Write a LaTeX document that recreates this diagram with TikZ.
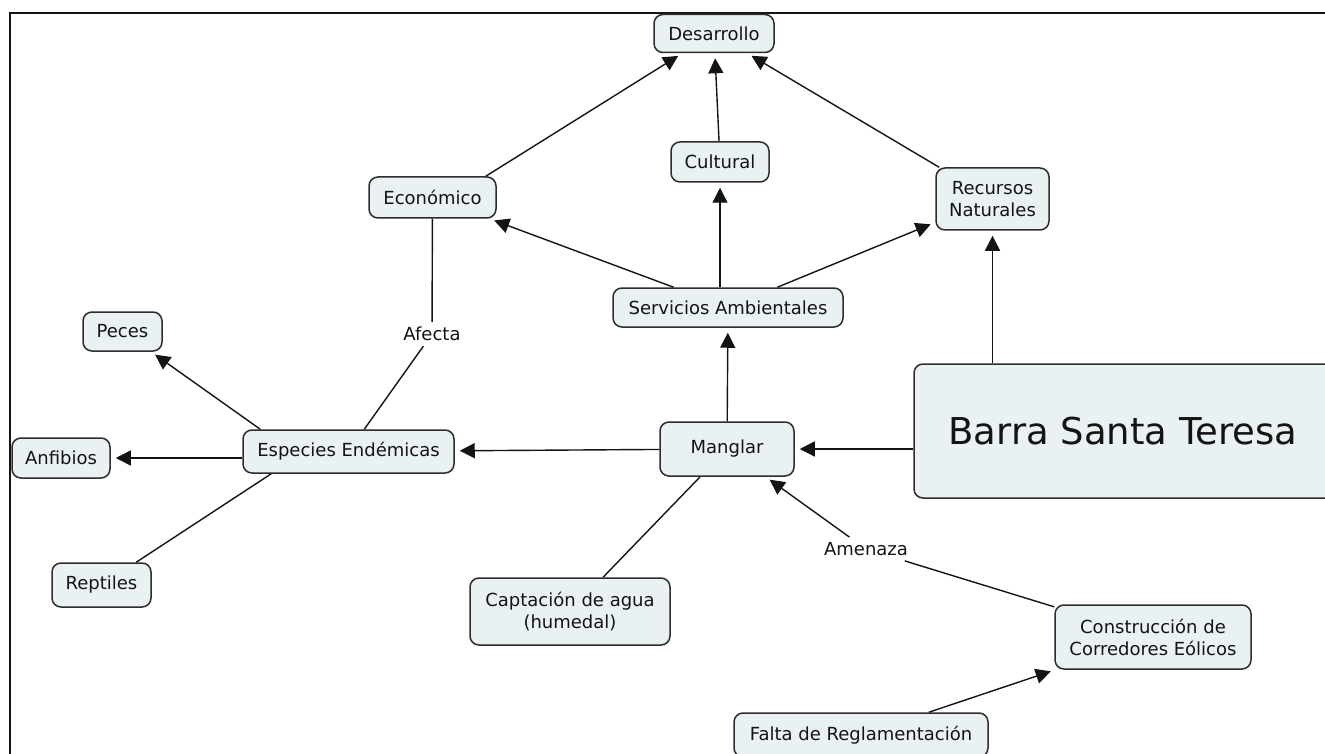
\documentclass[tikz,border=0pt]{standalone}
\usepackage{fontspec}
\setmainfont{DejaVu Sans}
\usetikzlibrary{arrows.meta,calc}
\definecolor{boxfill}{RGB}{233,241,243}
\definecolor{boxline}{RGB}{45,45,45}
\definecolor{ink}{RGB}{20,20,20}
\begin{document}
\begin{tikzpicture}[x=1pt,y=-1pt,
  cbox/.style={draw=boxline, fill=boxfill, line width=1.5pt, rounded corners=9pt,
    align=center, inner sep=0pt, font=\fontsize{18}{22}\selectfont, text=ink},
  lbl/.style={font=\fontsize{18}{22}\selectfont, inner sep=5pt, text=ink},
  conn/.style={line width=1.4pt, draw=ink},
  arr/.style={conn, -{Triangle[length=15pt,width=15pt]}, shorten >=5pt}]
\useasboundingbox (0,0) rectangle (1325,754);
\fill[white] (0,0) rectangle (1325,754);
% frame
\draw[line width=2pt, ink] (10,770) -- (10,13.5) -- (1340,13.5);

% nodes
\node[cbox, minimum width=120pt, minimum height=38pt] (des) at (714,33.5) {Desarrollo};
\node[cbox, minimum width=98pt, minimum height=40pt] (cul) at (720,162) {Cultural};
\node[cbox, minimum width=127pt, minimum height=41pt] (eco) at (432.5,197.5) {Económico};
\node[cbox, minimum width=113pt, minimum height=62pt] (rec) at (992.5,199) {Recursos\\Naturales};
\node[cbox, minimum width=230pt, minimum height=39pt] (ser) at (728,307.5) {Servicios Ambientales};
\node[cbox, minimum width=79pt, minimum height=39pt] (pec) at (122.5,331.5) {Peces};
\node[cbox, minimum width=98pt, minimum height=40pt] (anf) at (61,458) {Anfibios};
\node[cbox, minimum width=211pt, minimum height=43pt] (esp) at (348.5,451.5) {Especies Endémicas};
\node[cbox, minimum width=134pt, minimum height=54pt] (man) at (727,449) {Manglar};
\node[cbox, minimum width=440pt, minimum height=134pt, font=\fontsize{37}{44}\selectfont] (barra) at (1134,431) {Barra Santa Teresa\hspace*{22pt}};
\node[cbox, minimum width=99pt, minimum height=44pt] (rep) at (101.5,585) {Reptiles};
\node[cbox, minimum width=200pt, minimum height=67pt] (cap) at (570,611.5) {Captación de agua\\(humedal)};
\node[cbox, minimum width=196pt, minimum height=64pt] (con) at (1153,637) {Construcción de\\Corredores Eólicos};
\node[cbox, minimum width=254pt, minimum height=44pt] (fal) at (861,735) {Falta de Reglamentación};
\node[lbl] (afe) at (432,334) {Afecta};
\node[lbl] (amen) at (866,549) {Amenaza};

% connectors
\draw[arr] ($(eco.north east)+(-11,0)$) -- (des);
\draw[arr] (cul) -- (des);
\draw[arr] (rec) -- (des);
\draw[arr] (ser) -- (eco);
\draw[arr] (cul |- ser.north) -- (cul);
\draw[arr] (ser) -- (rec);
\draw[arr] (rec |- barra.north) -- (rec);
\draw[arr] (man -| barra.west) -- (man);
\draw[arr] (man) -- (ser);
\draw[arr] (man) -- (esp);
\draw[conn] (man) -- (cap);
\draw[conn] (con) -- (amen);
\draw[arr] (amen) -- (man);
\draw[arr] (fal) -- (con);
\draw[conn] (eco) -- (afe);
\draw[conn] (afe) -- (esp);
\draw[arr] ($(esp.north west)+(18,0)$) -- (pec);
\draw[arr] (anf -| esp.west) -- (anf);
\draw[conn] ($(esp.south west)+(29,0)$) -- (rep);
\end{tikzpicture}
\end{document}
